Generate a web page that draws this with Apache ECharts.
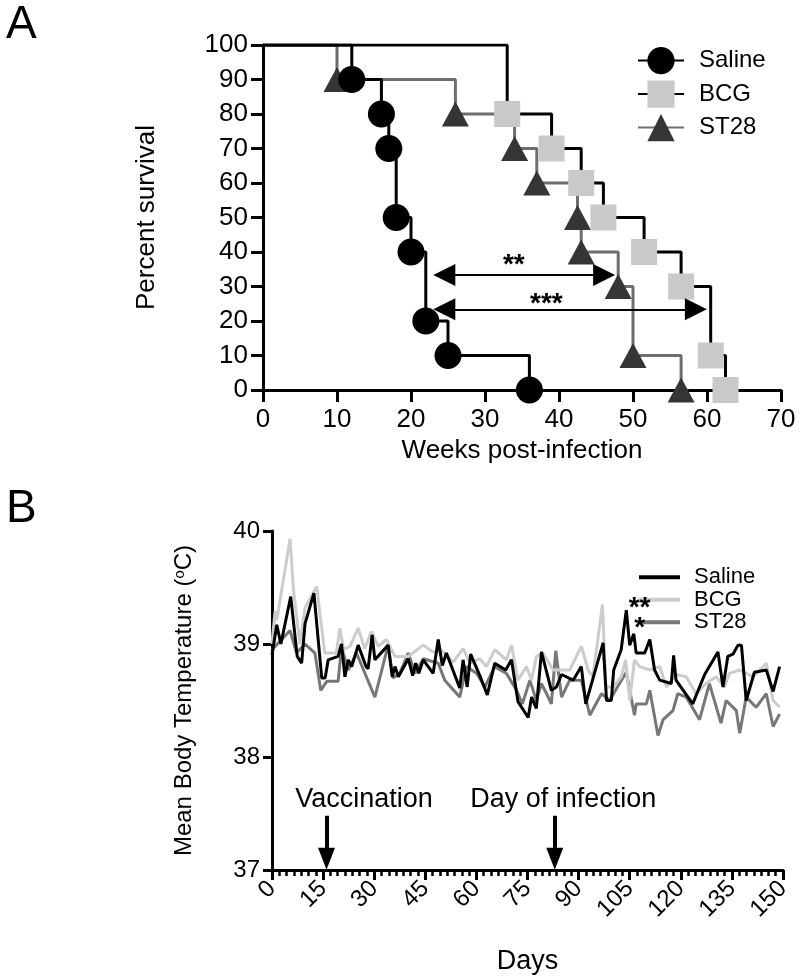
<!DOCTYPE html>
<html><head><meta charset="utf-8">
<script src="https://cdn.jsdelivr.net/npm/echarts@6/dist/echarts.min.js"></script>
<style>html,body{margin:0;padding:0;background:#fff}#c{width:800px;height:979px}</style>
</head><body><div id="c"></div>
<script>
// ---------- Panel A: survival ----------
const groupNames = ['Saline', 'BCG', 'ST28'];
const survWeekTicks = [0, 10, 20, 30, 40, 50, 60, 70];
const survSalineWeek = [0, 12, 16, 17, 18, 20, 22, 25, 36];
const survSalinePct  = [100, 90, 80, 70, 50, 40, 20, 10, 0];
const survBCGWeek = [0, 33, 39, 43, 46, 51.5, 56.5, 60.5, 62.5];
const survBCGPct  = [100, 80, 70, 60, 50, 40, 30, 10, 0];
const survST28Week = [0, 10, 26, 34, 37, 42.5, 43, 48, 50, 56.5];
const survST28Pct  = [100, 90, 80, 70, 60, 50, 40, 30, 10, 0];
// comparison arrows: [fromWeek, toWeek, percent, label, labelWeek, labelPct]
const compArrows = [
  [23, 47.6, 33.3, '**', 33.9, 36.2],
  [23, 60.0, 23.4, '***', 38.3, 24.8]
];

// ---------- Panel B: body temperature ----------
const bSalineDay  = [0,1.4,2.6,5.5,7.4,8.7,9.7,12.3,14.6,15.6,16.5,19.4,20.4,21.4,22.4,23.4,25.3,27.6,28.2,29.4,30.2,34.1,35.3,36.1,37.1,40.0,41.3,42.2,43.1,44.4,47.3,48.8,50.0,51.2,55.1,56.1,57.3,58.3,61.0,63.2,65.4,68.6,70.3,72.2,75.2,76.2,77.6,79.1,82.0,83.5,85.0,88.4,90.8,92.1,97.2,98.2,99.6,100.3,102.5,104.0,105.0,106.2,106.9,109.4,110.9,112.3,113.8,117.2,117.9,118.6,123.5,127.0,130.9,132.4,133.8,135.3,136.8,137.8,139.2,141.6,145.1,147.1,149.0];
const bSalineTemp = [38.90,39.17,39.00,39.42,38.89,38.83,39.18,39.45,38.70,38.70,38.86,38.89,39.00,38.71,38.86,38.80,38.99,38.80,38.78,39.08,38.86,38.99,38.71,38.80,38.71,38.87,38.72,38.83,38.74,38.86,38.74,39.04,38.81,38.92,38.61,38.86,38.62,38.91,38.72,38.55,38.83,38.77,38.86,38.49,38.35,38.53,38.43,38.93,38.59,38.62,38.73,38.68,38.80,38.47,39.01,38.50,38.50,38.77,38.95,39.30,38.99,39.09,38.92,38.92,39.04,38.77,38.68,38.65,38.90,38.68,38.47,38.73,38.93,38.62,38.89,38.91,38.99,38.99,38.50,38.75,38.77,38.58,38.80];
const bBCGDay  = [0,0.9,1.4,5.3,6.3,8.2,9.7,13.1,15.5,18.9,19.9,21.1,22.9,25.3,27.2,29.2,31.2,33.6,36.1,40.0,44.4,47.3,49.8,53.2,56.1,58.1,61.0,62.9,65.4,68.8,70.3,72.2,74.7,76.2,77.6,79.5,82.5,87.4,90.8,92.8,94.2,97.0,98.0,100.2,102.5,103.8,105.0,106.4,107.9,110.9,113.8,115.8,118.6,121.6,124.5,127.4,130.4,132.8,134.3,137.3,141.2,145.1,147.1,149.0];
const bBCGTemp = [39.00,39.29,39.21,39.93,39.48,39.00,39.32,39.51,38.92,38.92,39.14,38.95,38.98,39.14,38.96,39.11,38.98,39.04,38.89,38.89,38.99,38.93,38.94,38.84,38.96,38.83,38.87,38.80,38.95,38.86,38.99,38.68,38.80,38.68,38.89,38.92,38.77,38.77,38.98,38.77,38.71,39.35,38.62,38.62,38.71,38.86,38.50,38.86,38.80,38.77,38.80,38.62,38.73,38.71,38.56,38.65,38.71,38.62,38.74,38.77,38.71,38.83,38.50,38.44];
const bST28Day  = [0,5.3,7.2,9.7,12.6,14.3,16.1,19.4,20.4,22.4,24.8,27.7,30.2,34.1,35.5,37.5,40.0,42.0,44.4,48.8,50.7,55.1,57.1,60.1,62.5,65.4,68.8,71.8,73.5,75.7,77.6,79.1,80.6,82.0,83.3,85.0,87.4,90.8,93.3,96.7,99.1,102.0,104.0,106.4,106.9,109.9,110.9,113.3,114.8,117.7,119.1,121.6,125.5,128.4,131.8,133.3,136.3,137.3,139.2,142.1,145.1,147.1,149.0];
const bST28Temp = [38.95,39.12,38.92,39.00,38.92,38.59,38.67,38.67,38.97,38.77,38.92,38.71,38.53,38.99,38.70,38.74,38.92,38.74,38.87,38.83,38.68,38.53,38.80,38.74,38.62,38.80,38.74,38.59,38.47,38.68,38.50,38.65,38.56,38.47,38.94,38.53,38.68,38.68,38.37,38.56,38.50,38.65,38.75,38.37,38.47,38.47,38.59,38.19,38.33,38.41,38.56,38.53,38.33,38.65,38.30,38.50,38.41,38.21,38.53,38.44,38.56,38.27,38.38];
const dayTicks = [0, 15, 30, 45, 60, 75, 90, 105, 120, 135, 150];
const tempTicks = [37, 38, 39, 40];
// events: [day, label, labelDay]
const events = [[16, 'Vaccination', 27.0], [83, 'Day of infection', 85.5]];
// significance marks on Saline temperature: [day, temp, text]
const tempStars = [[107.9, 39.32, '**'], [107.9, 39.14, '*']];

const FONT = '"Liberation Sans", Arial, Helvetica, sans-serif';
const ARROW_HALF_WEEKS = 1.5; // half of arrow-head length, in weeks
const zip = (a, b) => a.map((v, i) => [v, b[i]]);
const survData = (w, p) => w.map((v, i) => i === 0 ? { value: [v, p[i]], symbol: 'none' } : [v, p[i]]);

const chart = echarts.init(document.getElementById('c'), null, { renderer: 'canvas' });

const axisCommon = {
  axisLine: { show: true, lineStyle: { color: '#000', width: 3 } },
  axisTick: { show: true, length: 12, lineStyle: { color: '#000', width: 3 } },
  splitLine: { show: false },
  axisLabel: { color: '#000', fontSize: 26, fontFamily: FONT },
  nameTextStyle: { color: '#000', fontSize: 26, fontFamily: FONT }
};

const option = {
  animation: false,
  backgroundColor: '#fff',
  textStyle: { fontFamily: FONT },
  title: [
    { text: 'A', left: 1, top: -3, textStyle: { fontSize: 46, fontWeight: 'normal', color: '#000', fontFamily: FONT } },
    { text: 'B', left: 1, top: 481, textStyle: { fontSize: 46, fontWeight: 'normal', color: '#000', fontFamily: FONT } }
  ],
  legend: [
    {
      orient: 'vertical', left: 632, top: 42, itemWidth: 46, itemHeight: 34, itemGap: 6.3,
      data: ['A-Saline', 'A-BCG', 'A-ST28'],
      formatter: n => n.slice(2),
      textStyle: { fontSize: 24, color: '#000', fontFamily: FONT, padding: [0, 0, 0, 10] }
    },
    {
      orient: 'vertical', left: 634, top: 561, itemWidth: 41, itemHeight: 4, itemGap: 0, icon: 'rect',
      data: ['B-Saline', 'B-BCG', 'B-ST28'],
      formatter: n => n.slice(2),
      textStyle: { fontSize: 22, lineHeight: 22.5, color: '#000', fontFamily: FONT, padding: [0, 0, 0, 9] }
    }
  ],
  grid: [
    { left: 263, top: 45, width: 518, height: 345 },
    { left: 272, top: 531, width: 511, height: 339 }
  ],
  xAxis: [
    Object.assign({}, axisCommon, {
      gridIndex: 0, type: 'value', min: survWeekTicks[0], max: survWeekTicks[survWeekTicks.length - 1], interval: 10,
      name: 'Weeks post-infection', nameLocation: 'middle', nameGap: 48,
      axisLabel: Object.assign({}, axisCommon.axisLabel, { margin: 17 })
    }),
    Object.assign({}, axisCommon, {
      gridIndex: 1, type: 'value', min: dayTicks[0], max: dayTicks[dayTicks.length - 1], interval: 15,
      name: 'Days', nameLocation: 'middle', nameGap: 78,
      nameTextStyle: { color: '#000', fontSize: 27, fontFamily: FONT },
      axisTick: { show: true, length: 10, lineStyle: { color: '#000', width: 3 } },
      minorTick: { show: true, splitNumber: 7, length: 6, lineStyle: { color: '#000', width: 2.5 } },
      axisLabel: { color: '#000', fontSize: 24, fontFamily: FONT, rotate: 45, margin: 15 }
    })
  ],
  yAxis: [
    Object.assign({}, axisCommon, {
      gridIndex: 0, type: 'value', min: 0, max: 100, interval: 10,
      name: 'Percent survival', nameLocation: 'middle', nameGap: 103,
      axisLabel: Object.assign({}, axisCommon.axisLabel, { margin: 15 })
    }),
    Object.assign({}, axisCommon, {
      gridIndex: 1, type: 'value', min: tempTicks[0], max: tempTicks[tempTicks.length - 1], interval: 1,
      name: 'Mean Body Temperature ({s|o}C)', nameLocation: 'middle', nameGap: 76,
      nameTextStyle: { color: '#000', fontSize: 24, fontFamily: FONT, rich: { s: { fontSize: 15, verticalAlign: 'top', lineHeight: 16, padding: [0, 0, 8, 0], color: '#000', fontFamily: FONT } } },
      axisTick: { show: true, length: 9, lineStyle: { color: '#000', width: 3 } },
      axisLabel: Object.assign({}, axisCommon.axisLabel, { fontSize: 24, margin: 12 })
    })
  ],
  series: [
    {
      name: 'A-ST28', type: 'line', xAxisIndex: 0, yAxisIndex: 0, step: 'end',
      data: survData(survST28Week, survST28Pct),
      symbol: 'triangle', symbolSize: [27, 25], symbolKeepAspect: false,
      lineStyle: { color: '#6e6e6e', width: 3 }, itemStyle: { color: '#353535' }, z: 2
    },
    {
      name: 'A-BCG', type: 'line', xAxisIndex: 0, yAxisIndex: 0, step: 'end',
      data: survData(survBCGWeek, survBCGPct),
      symbol: 'rect', symbolSize: 26,
      lineStyle: { color: '#000', width: 3 }, itemStyle: { color: '#c9c9c9' }, z: 3
    },
    {
      name: 'A-Saline', type: 'line', xAxisIndex: 0, yAxisIndex: 0, step: 'end',
      data: survData(survSalineWeek, survSalinePct),
      symbol: 'circle', symbolSize: 27,
      lineStyle: { color: '#000', width: 3 }, itemStyle: { color: '#000' }, z: 4,
      markLine: {
        silent: true, symbol: ['triangle', 'triangle'], symbolSize: [22, 22],
        lineStyle: { color: '#000', width: 2, type: 'solid' }, label: { show: false },
        data: compArrows.map(a => [{ coord: [a[0] + ARROW_HALF_WEEKS, a[2]] }, { coord: [a[1] - ARROW_HALF_WEEKS, a[2]] }])
      },
      markPoint: {
        silent: true, symbol: 'rect', symbolSize: 1, itemStyle: { color: 'rgba(0,0,0,0)' },
        label: { show: true, position: 'inside', color: '#000', fontSize: 28, fontWeight: 'bold', fontFamily: FONT, formatter: p => p.name },
        data: compArrows.map(a => ({ name: a[3], coord: [a[4], a[5]] }))
      }
    },
    {
      name: 'B-ST28', type: 'line', xAxisIndex: 1, yAxisIndex: 1, symbol: 'none',
      data: zip(bST28Day, bST28Temp), lineStyle: { color: '#777', width: 3 }, itemStyle: { color: '#777' }, z: 2
    },
    {
      name: 'B-BCG', type: 'line', xAxisIndex: 1, yAxisIndex: 1, symbol: 'none',
      data: zip(bBCGDay, bBCGTemp), lineStyle: { color: '#cccccc', width: 3 }, itemStyle: { color: '#cccccc' }, z: 3
    },
    {
      name: 'B-Saline', type: 'line', xAxisIndex: 1, yAxisIndex: 1, symbol: 'none',
      data: zip(bSalineDay, bSalineTemp), lineStyle: { color: '#000', width: 3 }, itemStyle: { color: '#000' }, z: 4,
      markLine: {
        silent: true, symbol: ['none', 'triangle'], symbolSize: [17, 22],
        lineStyle: { color: '#000', width: 4, type: 'solid' }, label: { show: false },
        data: events.map(e => [{ coord: [e[0], 37.48] }, { coord: [e[0], 37.1] }])
      },
      markPoint: {
        silent: true, symbol: 'rect', symbolSize: 1, itemStyle: { color: 'rgba(0,0,0,0)' },
        label: { show: true, position: 'inside', color: '#000', fontFamily: FONT, formatter: p => p.name },
        data: events.map(e => ({ name: e[1], coord: [e[2], 37.62], label: { fontSize: 27 } }))
          .concat(tempStars.map(s => ({ name: s[2], coord: [s[0], s[1]], label: { fontSize: 28, fontWeight: 'bold' } })))
      }
    }
  ]
};
chart.setOption(option);
</script>
</body></html>
